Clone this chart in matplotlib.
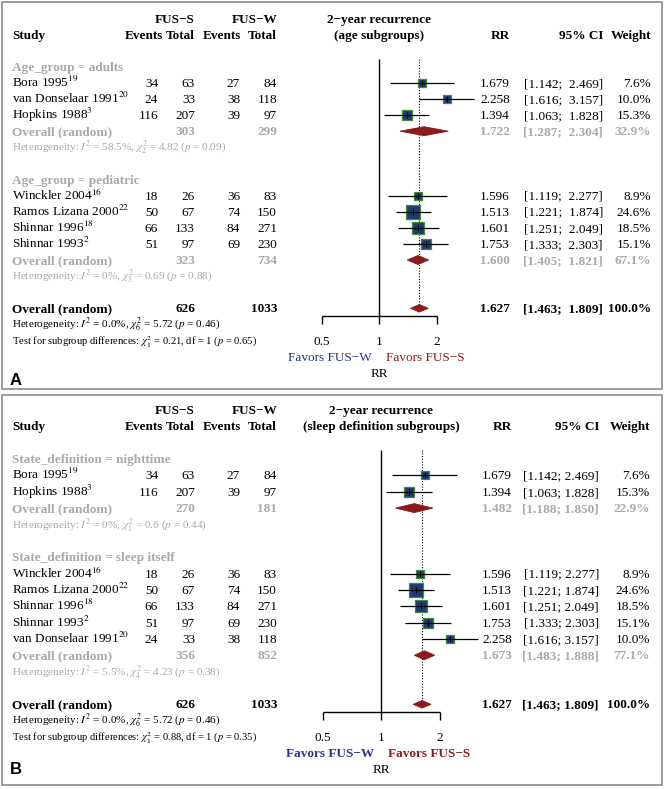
import matplotlib
matplotlib.use("Agg")
import matplotlib.pyplot as plt
from matplotlib.patches import Polygon, Rectangle

plt.rcParams['font.family'] = ['Liberation Serif', 'DejaVu Serif']
plt.rcParams['mathtext.fontset'] = 'stix'

# ---------------- data ----------------
study = ["Bora 1995", "van Donselaar 1991", "Hopkins 1988", "Winckler 2004",
         "Ramos Lizana 2000", "Shinnar 1996", "Shinnar 1993"]
ref = ["19", "20", "3", "16", "22", "18", "2"]
ev_s = [34, 24, 116, 18, 50, 66, 51]
tot_s = [63, 33, 207, 26, 67, 133, 97]
ev_w = [27, 38, 39, 36, 74, 84, 69]
tot_w = [84, 118, 97, 83, 150, 271, 230]
rr = [1.679, 2.258, 1.394, 1.596, 1.513, 1.601, 1.753]
ci_lo = [1.142, 1.616, 1.063, 1.119, 1.221, 1.251, 1.333]
ci_hi = [2.469, 3.157, 1.828, 2.277, 1.874, 2.049, 2.303]
weight = [7.6, 10.0, 15.3, 8.9, 24.6, 18.5, 15.1]

# panel A: age subgroups
a_title = "(age subgroups)"
a_groups = ["Age_group = adults", "Age_group = pediatric"]
a_members = [[0, 1, 2], [3, 4, 5, 6]]
a_tot_s = [303, 323]
a_tot_w = [299, 734]
a_rr = [1.722, 1.600]
a_lo = [1.287, 1.405]
a_hi = [2.304, 1.821]
a_wt = [32.9, 67.1]
a_het = [r"Heterogeneity: $I^2$ = 58.5%, $\chi^2_2$ = 4.82 ($p$ = 0.09)",
         r"Heterogeneity: $I^2$ = 0%, $\chi^2_3$ = 0.69 ($p$ = 0.88)"]
a_test = r"Test for subgroup differences: $\chi^2_1$ = 0.21, df = 1 ($p$ = 0.65)"

# panel B: sleep definition subgroups
b_title = "(sleep definition subgroups)"
b_groups = ["State_definition = nighttime", "State_definition = sleep itself"]
b_members = [[0, 2], [3, 4, 5, 6, 1]]
b_tot_s = [270, 356]
b_tot_w = [181, 852]
b_rr = [1.482, 1.673]
b_lo = [1.188, 1.483]
b_hi = [1.850, 1.888]
b_wt = [22.9, 77.1]
b_het = [r"Heterogeneity: $I^2$ = 0%, $\chi^2_1$ = 0.6 ($p$ = 0.44)",
         r"Heterogeneity: $I^2$ = 5.5%, $\chi^2_4$ = 4.23 ($p$ = 0.38)"]
b_test = r"Test for subgroup differences: $\chi^2_1$ = 0.88, df = 1 ($p$ = 0.35)"

# overall
ov_tot_s, ov_tot_w = 626, 1033
ov_rr, ov_lo, ov_hi, ov_wt = 1.627, 1.463, 1.809, 100.0
ov_het = r"Heterogeneity: $I^2$ = 0.0%, $\chi^2_6$ = 5.72 ($p$ = 0.46)"

ticks = [0.5, 1, 2]
tick_labels = ["0.5", "1", "2"]

# ---------------- style ----------------
W, H = 666, 789
GRAY = "#a9a9a9"
NAVY = "#1f3a73"
GREEN = "#3c8c3c"
DRED = "#8b1a1a"
BLUE_T = "#27348b"
FS = 9.5
FS_SMALL = 8
FS_TEST = 7.6

fig = plt.figure(figsize=(W / 100, H / 100), dpi=100)
bg = fig.add_axes([0, 0, 1, 1])
bg.set_xlim(0, W)
bg.set_ylim(H, 0)
bg.axis("off")

panels = [
    dict(title=a_title, groups=a_groups, members=a_members, ts=a_tot_s, tw=a_tot_w,
         rr=a_rr, lo=a_lo, hi=a_hi, wt=a_wt, het=a_het, test=a_test,
         top=18.5, sp=16.1, x1=379, unit=57.5, c_rr=510, c_ci=603, c_wt=651,
         sep=";  ", box=(2, 2, 662, 389), label="A", label_dy=40, favors_bold=False),
    dict(title=b_title, groups=b_groups, members=b_members, ts=b_tot_s, tw=b_tot_w,
         rr=b_rr, lo=b_lo, hi=b_hi, wt=b_wt, het=b_het, test=b_test,
         top=410, sp=16.35, x1=381, unit=58.5, c_rr=512, c_ci=599, c_wt=650,
         sep="; ", box=(2, 395, 662, 785), label="B", label_dy=33, favors_bold=True),
]

C_STUDY, C_ES, C_TS, C_EW, C_TW = 12, 158, 195, 240, 277
BASE = 4  # baseline offset from row centre (px)


def txt(x, y, s, ha="left", color="black", bold=False, size=FS, **kw):
    bg.text(x, y + BASE, s, ha=ha, va="baseline", color=color,
            fontweight="bold" if bold else "normal", fontsize=size, **kw)


for P in panels:
    row = lambda i: P["top"] + i * P["sp"]
    x0, y0, x1b, y1b = P["box"]
    bg.add_patch(Rectangle((x0, y0), x1b - x0, y1b - y0, fill=False,
                           edgecolor="#8a8a8a", lw=1.2))
    bg.text(10, row(20) + P["label_dy"], P["label"],
            family=["Liberation Sans", "DejaVu Sans"], fontweight="bold",
            fontsize=12, ha="left", va="center")

    # headers
    txt(C_TS, row(0), "FUS\u2212S", ha="right", bold=True)
    txt(C_TW, row(0), "FUS\u2212W", ha="right", bold=True)
    txt(P["x1"], row(0), "2\u2212year recurrence", ha="center", bold=True)
    txt(C_STUDY, row(1), "Study", bold=True)
    txt(C_ES + 5, row(1), "Events", ha="right", bold=True)
    txt(C_TS, row(1), "Total", ha="right", bold=True)
    txt(C_EW + 1, row(1), "Events", ha="right", bold=True)
    txt(C_TW, row(1), "Total", ha="right", bold=True)
    txt(P["x1"], row(1), P["title"], ha="center", bold=True)
    txt(P["c_rr"], row(1), "RR", ha="right", bold=True)
    txt(P["c_ci"], row(1), "95% CI", ha="right", bold=True)
    txt(P["c_wt"], row(1), "Weight", ha="right", bold=True)

    # forest axes (log scale)
    L, R = 280, 500
    ax = fig.add_axes([L / W, 0, (R - L) / W, 1])
    ax.set_xscale("log", base=2)
    ax.set_xlim(2 ** ((L - P["x1"]) / P["unit"]), 2 ** ((R - P["x1"]) / P["unit"]))
    ax.set_ylim(H, 0)
    ax.axis("off")
    ax.patch.set_alpha(0)

    def diamond(r, lo, hi, y, h=4.5):
        ax.add_patch(Polygon([(lo, y), (r, y - h), (hi, y), (r, y + h)], closed=True,
                             facecolor=DRED, edgecolor=DRED, lw=0.6, zorder=4))

    sep = P["sep"]
    i = 3
    for g in range(len(P["groups"])):
        txt(C_STUDY, row(i), P["groups"][g], color=GRAY, bold=True)
        i += 1
        for k in P["members"][g]:
            y = row(i)
            txt(C_STUDY, y, study[k] + "$^{" + ref[k] + "}$")
            txt(C_ES, y, str(ev_s[k]), ha="right")
            txt(C_TS, y, str(tot_s[k]), ha="right")
            txt(C_EW, y, str(ev_w[k]), ha="right")
            txt(C_TW, y, str(tot_w[k]), ha="right")
            txt(P["c_rr"], y, f"{rr[k]:.3f}", ha="right")
            txt(P["c_ci"], y, f"[{ci_lo[k]:.3f}{sep}{ci_hi[k]:.3f}]", ha="right")
            txt(P["c_wt"], y, f"{weight[k]:.1f}%", ha="right")
            ax.scatter([rr[k]], [y], s=3.63 * weight[k], marker="s", facecolor=NAVY,
                       edgecolor=GREEN, linewidths=0.9, zorder=3)
            ax.hlines(y, ci_lo[k], ci_hi[k], color="black", lw=0.9, zorder=5)
            ax.plot([rr[k]], [y], marker="|", ms=4, mew=0.7, color="black", zorder=6)
            i += 1
        y = row(i)
        txt(C_STUDY, y, "Overall (random)", color=GRAY, bold=True)
        txt(C_TS, y, str(P["ts"][g]), ha="right", color=GRAY, bold=True)
        txt(C_TW, y, str(P["tw"][g]), ha="right", color=GRAY, bold=True)
        txt(P["c_rr"], y, f"{P['rr'][g]:.3f}", ha="right", color=GRAY, bold=True)
        txt(P["c_ci"], y, f"[{P['lo'][g]:.3f}{sep}{P['hi'][g]:.3f}]", ha="right",
            color=GRAY, bold=True)
        txt(P["c_wt"], y, f"{P['wt'][g]:.1f}%", ha="right", color=GRAY, bold=True)
        diamond(P["rr"][g], P["lo"][g], P["hi"][g], y)
        i += 1
        txt(C_STUDY, row(i), P["het"][g], color=GRAY, size=FS_SMALL)
        i += 2

    # overall
    y = row(i)
    txt(C_STUDY, y, "Overall (random)", bold=True)
    txt(C_TS, y, str(ov_tot_s), ha="right", bold=True)
    txt(C_TW, y, str(ov_tot_w), ha="right", bold=True)
    txt(P["c_rr"], y, f"{ov_rr:.3f}", ha="right", bold=True)
    txt(P["c_ci"], y, f"[{ov_lo:.3f}{sep}{ov_hi:.3f}]", ha="right", bold=True)
    txt(P["c_wt"], y, f"{ov_wt:.1f}%", ha="right", bold=True)
    diamond(ov_rr, ov_lo, ov_hi, y, h=3.8)
    txt(C_STUDY, row(i + 1) - 0.5, ov_het, size=FS_SMALL)
    txt(C_STUDY, row(i + 2) + 0.5, P["test"], size=FS_TEST)

    # reference lines and axis
    top_line = row(0) + 40
    axis_y = y + 8
    ax.vlines(1, top_line, axis_y, color="black", lw=1.0)
    ax.vlines(ov_rr, top_line, y, color="black", lw=0.8, linestyles=(0, (1, 1.5)))
    ax.hlines(axis_y, ticks[0], ticks[-1], color="black", lw=1.0)
    for t, tl in zip(ticks, tick_labels):
        ax.vlines(t, axis_y, axis_y + 8, color="black", lw=1.0)
        ax.text(t, axis_y + 25 + BASE, tl, ha="center", va="baseline", fontsize=FS)
    off = 2 ** (7 / P["unit"])
    fw = "bold" if P["favors_bold"] else "normal"
    ax.text(1 / off, axis_y + 41 + BASE, "Favors FUS\u2212W", ha="right", va="baseline",
            color=BLUE_T, fontsize=FS, fontweight=fw)
    ax.text(off, axis_y + 41 + BASE, "Favors FUS\u2212S", ha="left", va="baseline",
            color=DRED, fontsize=FS, fontweight=fw)
    ax.text(1, axis_y + 57 + BASE, "RR", ha="center", va="baseline", fontsize=FS)

fig.savefig("out.png", dpi=100)
